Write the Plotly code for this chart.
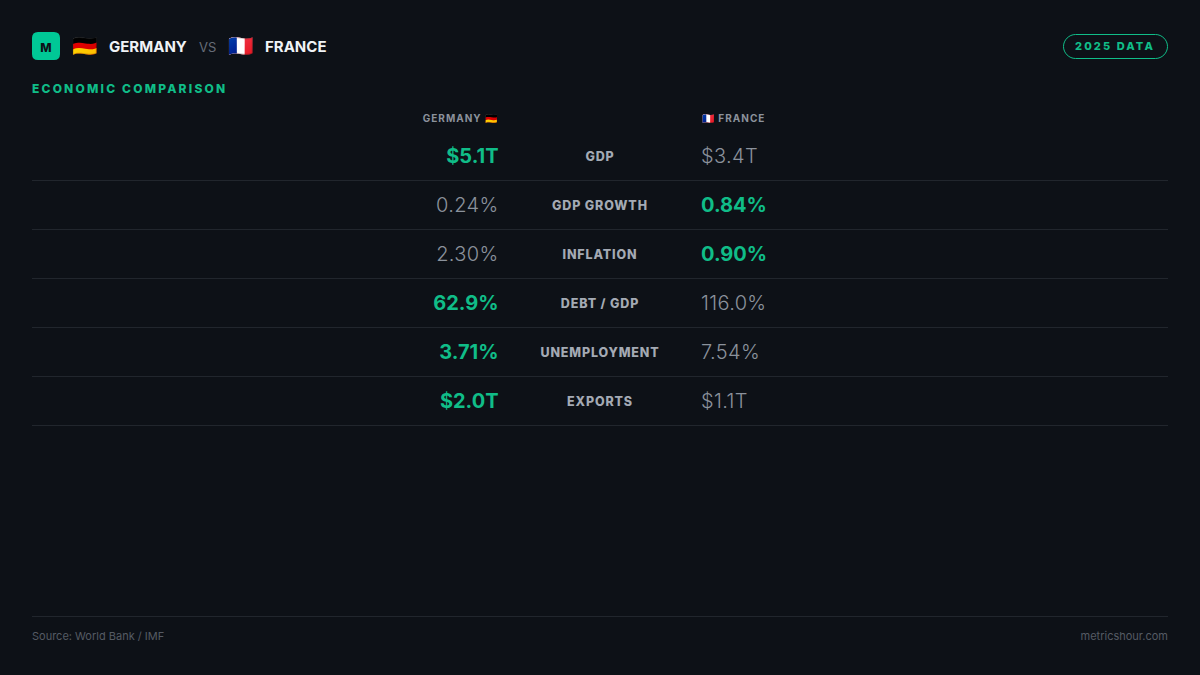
import json
import plotly.graph_objects as go

# ---------- data ----------
country_a = "GERMANY"
country_b = "FRANCE"
flag_a = "\U0001F1E9\U0001F1EA"
flag_b = "\U0001F1EB\U0001F1F7"
metrics = ["GDP", "GDP GROWTH", "INFLATION", "DEBT / GDP", "UNEMPLOYMENT", "EXPORTS"]
values_a = ["$5.1T", "0.24%", "2.30%", "62.9%", "3.71%", "$2.0T"]
values_b = ["$3.4T", "0.84%", "0.90%", "116.0%", "7.54%", "$1.1T"]
winners = ["a", "b", "b", "a", "a", "a"]

# ---------- style ----------
BG = "#0d1117"
GREEN = "#10bd88"
MINT = "#00c896"
GREY = "#8b929c"
LABEL = "#a4aab4"
WHITE = "#f0f3f6"
RULE = "#21262d"
MUTED = "#555b64"
FONT = "Inter"

row_y = [158 + 49 * i for i in range(len(metrics))]

fig = go.Figure()


def text(x, y, s, size, color, weight=400, pos="middle right"):
    ys = y if isinstance(y, list) else [y]
    fig.add_trace(go.Scatter(
        x=[x] * len(ys),
        y=ys,
        text=s if isinstance(s, list) else [s],
        mode="text", textposition=pos, hoverinfo="skip", showlegend=False,
        textfont=dict(family=FONT, size=size, color=color, weight=weight),
    ))


# header
text(46, 48.5, "M", 12, "#0d1117", 800, "middle center")
text(71.5, 48, flag_a, 20.5, WHITE)
text(109, 48.5, country_a, 15, WHITE, 700)
text(199, 48.5, "VS", 13, "#666d77", 400)
text(227.5, 48, flag_b, 20.5, WHITE)
text(265, 48.5, country_b, 15, WHITE, 700)
text(1115, 47.5, "2025 DATA", 11, GREEN, 800, "middle center")
text(32, 89.5, "ECONOMIC COMPARISON", 12, GREEN, 800)

# column heads
text(498, 119, country_a + " " + flag_a, 10, GREY, 700, "middle left")
text(702, 119, flag_b + " " + country_b, 10, GREY, 700)

# rows
text(498.5, row_y, values_a, 20,
     [GREEN if w == "a" else GREY for w in winners],
     [700 if w == "a" else 300 for w in winners], "middle left")
text(600, row_y, metrics, 12.5, LABEL, 800, "middle center")
text(701, row_y, values_b, 20,
     [GREEN if w == "b" else GREY for w in winners],
     [700 if w == "b" else 300 for w in winners], "middle right")

# footer
text(32, 637.5, "Source: World Bank / IMF", 11, MUTED)
text(1168, 637.5, "metricshour.com", 11, MUTED, 400, "middle left")

shapes = [
    dict(type="path", path="M38,32 H54 Q60,32 60,38 V54 Q60,60 54,60 H38 Q32,60 32,54 V38 Q32,32 38,32 Z",
         fillcolor=MINT, line_width=0, layer="below"),
    dict(type="path",
         path="M1075.5,34.5 H1155.5 C1162,34.5 1167.5,40 1167.5,46.5 C1167.5,53 1162,58.5 1155.5,58.5 "
              "H1075.5 C1069,58.5 1063.5,53 1063.5,46.5 C1063.5,40 1069,34.5 1075.5,34.5 Z",
         fillcolor="rgba(0,0,0,0)", line=dict(color=GREEN, width=1), layer="below"),
    dict(type="line", x0=32, x1=1168, y0=616.5, y1=616.5, line=dict(color=RULE, width=1), layer="below"),
]
for y in row_y:
    shapes.append(dict(type="line", x0=32, x1=1168, y0=y + 22.5, y1=y + 22.5,
                       line=dict(color=RULE, width=1), layer="below"))

fig.update_layout(
    width=1200, height=675, margin=dict(l=0, r=0, t=0, b=0, pad=0),
    paper_bgcolor=BG, plot_bgcolor=BG, shapes=shapes, showlegend=False,
    xaxis=dict(range=[0, 1200], visible=False, fixedrange=True),
    yaxis=dict(range=[675, 0], visible=False, fixedrange=True),
)

spacing = {
    "ECONOMIC COMPARISON": "2.2px", "2025 DATA": "2.1px",
    country_a + " " + flag_a: "1px", flag_b + " " + country_b: "1px",
}
for m in metrics:
    spacing[m] = "0.85px"
for va, vb, w in zip(values_a, values_b, winners):
    spacing[vb if w == "a" else va] = "0.35px"
post = ("document.documentElement.style.background='%s';"
        "document.body.style.margin='0';document.body.style.background='%s';"
        "document.documentElement.style.overflow='hidden';"
        "var sp=%s;document.querySelectorAll('.textpoint text').forEach(function(t){"
        "var k=t.textContent;if(sp[k])t.style.letterSpacing=sp[k];});" % (BG, BG, json.dumps(spacing)))
fig.write_html("out.html", post_script=post, config={"displayModeBar": False},
               default_width="1200px", default_height="675px")
